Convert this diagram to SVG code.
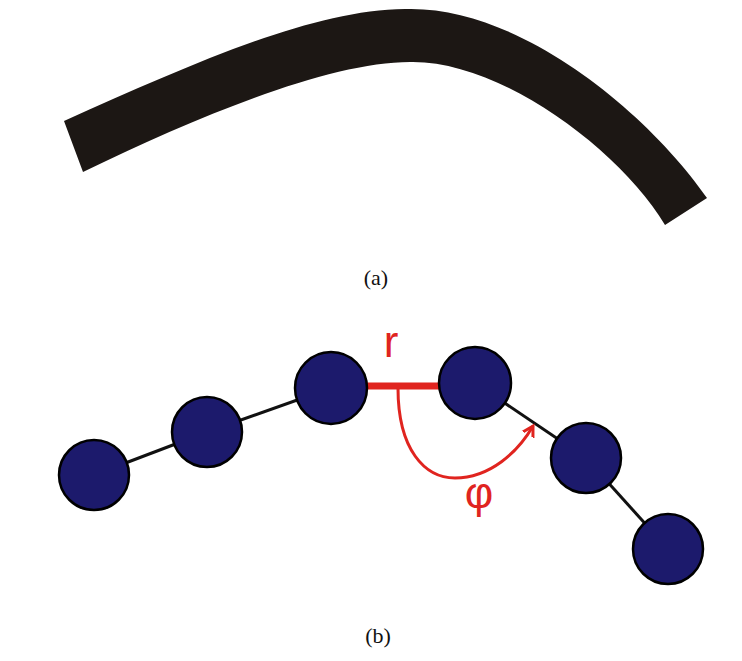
<svg xmlns="http://www.w3.org/2000/svg" width="742" height="661" viewBox="0 0 742 661">
<style>
.lbl{font-family:"Liberation Serif","Times New Roman",serif;font-size:22px;fill:#111;text-anchor:middle}
.bead{fill:#1c1a6c;stroke:#000;stroke-width:2.5}
.bond{stroke:#111;stroke-width:3;fill:none}
.red{fill:#e0241f;font-family:"Liberation Sans",Arial,sans-serif;font-size:44px;text-anchor:middle}
</style>
<defs>
<marker id="chev" markerWidth="20" markerHeight="20" refX="10" refY="10" orient="auto" markerUnits="userSpaceOnUse">
<path d="M-4,2 L10,10 L-4,18" fill="none" stroke="#e0241f" stroke-width="3"/>
</marker>
</defs>
<rect width="742" height="661" fill="#fff"/>
<g id="rod">
<path d="M64,121 C190,65 310,10 405,9 C520,5 650,115 707,198 L665,225 C620,150 500,60 410,62 C330,62 200,115 83,172 Z" fill="#1c1714"/>
</g>
<text class="lbl" x="376" y="285">(a)</text>
<g id="connectors">
<line class="bond" x1="94" y1="475" x2="207" y2="432"/>
<line class="bond" x1="207" y1="432" x2="331" y2="388"/>
<line class="bond" x1="475" y1="383" x2="586" y2="458"/>
<line class="bond" x1="586" y1="458" x2="668" y2="549"/>
<line x1="362" y1="386" x2="444" y2="386" stroke="#e0241f" stroke-width="7"/>
<path d="M398,388 C398,450 425,478 455,478 C490,478 518,452 533,426" fill="none" stroke="#e0241f" stroke-width="3" marker-end="url(#chev)"/>
</g>
<g id="n1"><circle class="bead" cx="94" cy="475" r="35"/></g>
<g id="n2"><circle class="bead" cx="207" cy="432" r="35"/></g>
<g id="n3"><circle class="bead" cx="331" cy="388" r="36"/></g>
<g id="n4"><circle class="bead" cx="475" cy="383" r="36"/></g>
<g id="n5"><circle class="bead" cx="586" cy="458" r="35"/></g>
<g id="n6"><circle class="bead" cx="668" cy="549" r="35"/></g>
<text class="red" x="391" y="357">r</text>
<text class="red" x="479" y="508">φ</text>
<text class="lbl" x="378" y="643">(b)</text>
</svg>
